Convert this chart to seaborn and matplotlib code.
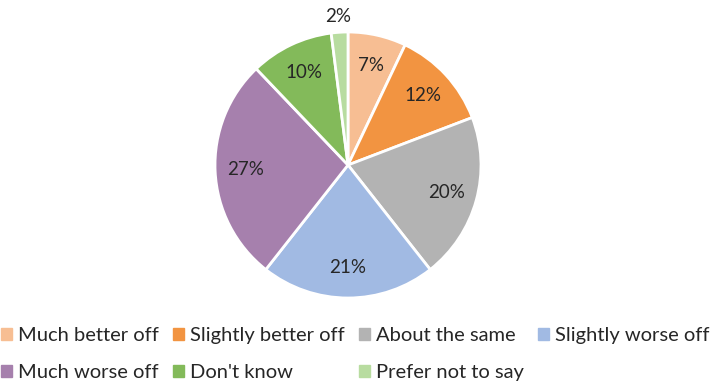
import numpy as np
import seaborn as sns
import matplotlib.pyplot as plt
import matplotlib.patches as mpatches

sns.set_theme(style='white')
plt.rcParams['font.family'] = ['Lato', 'DejaVu Sans']

# data
categories = ['Much better off', 'Slightly better off', 'About the same', 'Slightly worse off',
              'Much worse off', "Don't know", 'Prefer not to say']
values = [7, 12, 20, 21, 27, 10, 2]
colors = ['#F7BE93', '#F29441', '#B3B3B3', '#A1BAE3', '#A680AD', '#83BA5A', '#B8DCA0']

fig = plt.figure(figsize=(7.1, 3.82), dpi=100)
ax = fig.add_axes([215/710, 84/382, 266/710, 266/382])

wedges, _ = ax.pie(values, colors=colors, startangle=90, counterclock=False,
                   wedgeprops=dict(edgecolor='white', linewidth=2))
ax.set_aspect('equal')
ax.set_xlim(-1.0, 1.0)
ax.set_ylim(-1.0, 1.0)

# percentage labels
for w, v in zip(wedges, values):
    ang = np.deg2rad((w.theta1 + w.theta2) / 2)
    r = 1.12 if v < 5 else 0.77
    ax.text(r * np.cos(ang), r * np.sin(ang), f'{v}%', ha='center', va='center',
            fontsize=13.5, color='#262626')

# legend, filled row by row
handles = [mpatches.Patch(color=c, label=l) for c, l in zip(colors, categories)]
order = [0, 4, 1, 5, 2, 6, 3]
fig.legend([handles[i] for i in order], [categories[i] for i in order],
           loc='lower center', bbox_to_anchor=(0.5, -0.045), ncol=4, frameon=False,
           prop=dict(size=14.5), handlelength=0.55, handleheight=0.55,
           handletextpad=0.3, columnspacing=0.7, labelspacing=1.0, labelcolor='#262626')

fig.savefig('out.png', dpi=100)
